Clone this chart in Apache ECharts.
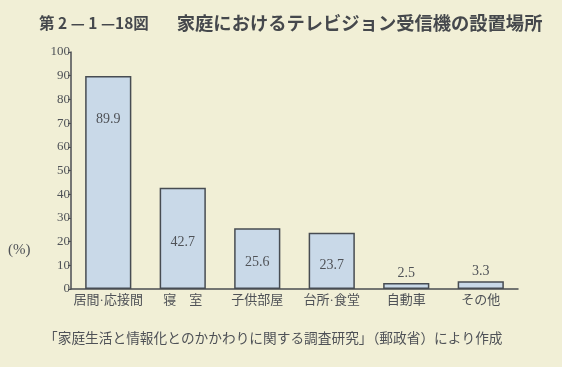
<!DOCTYPE html>
<html><head><meta charset="utf-8">
<script src="https://cdn.jsdelivr.net/npm/echarts@6/dist/echarts.min.js"></script>
<style>html,body{margin:0;padding:0;background:#f1efd6;}#c{width:562px;height:367px;}</style>
</head><body><div id="c"></div>
<script>
const categories = ['居間·応接間', '寝　室', '子供部屋', '台所·食堂', '自動車', 'その他'];
const values = [89.9, 42.7, 25.6, 23.7, 2.5, 3.3];
const yTicks = [0, 10, 20, 30, 40, 50, 60, 70, 80, 90, 100];
const titleNo = '第 2 — 1 —18図';
const titleText = '家庭におけるテレビジョン受信機の設置場所';
const sourceText = '「家庭生活と情報化とのかかわりに関する調査研究」（郵政省）により作成';
const unitText = '(%)';

const serif = '"Liberation Serif","DejaVu Serif","Noto Sans CJK JP",serif';
const txt = '#4f5257';
const chart = echarts.init(document.getElementById('c'), null, {renderer: 'canvas'});
const labelPos = values.map(v => v > 60 ? {position: 'insideTop', distance: 36} : (v > 10 ? {position: 'inside', offset: [0, 4]} : {position: 'top', distance: 3}));
chart.setOption({
  backgroundColor: '#f1efd6',
  animation: false,
  title: {
    text: '{a|' + titleNo + '}{g|}{b|' + titleText + '}', left: 34, top: 9,
    textStyle: {
      rich: {
        a: {fontFamily: '"Noto Sans CJK JP"', fontWeight: 'bold', fontSize: 15.5, color: '#45484c'},
        g: {width: 28},
        b: {fontFamily: '"Noto Sans CJK JP"', fontWeight: 'bold', fontSize: 18.3, color: '#45484c'}
      }
    }
  },
  graphic: [
    {type: 'text', left: 8, top: 243, style: {text: unitText, font: '15px ' + serif, fill: txt}},
    {type: 'text', left: 44, top: 331, style: {text: sourceText, font: '13.7px "Noto Sans CJK JP"', fill: txt}}
  ],
  grid: {left: 71, right: 44, top: 52, bottom: 78, containLabel: false},
  xAxis: {
    type: 'category', data: categories,
    axisLine: {lineStyle: {color: '#4a4d52', width: 1.5}},
    axisTick: {show: false},
    axisLabel: {interval: 0, fontFamily: serif + ',"Noto Sans CJK JP"', fontSize: 13, color: txt, margin: 5}
  },
  yAxis: {
    type: 'value', min: 0, max: 100, interval: 10,
    axisLine: {show: true, lineStyle: {color: '#4a4d52', width: 1.5}},
    axisTick: {show: true, length: 3, lineStyle: {color: '#4a4d52'}},
    splitLine: {show: false},
    axisLabel: {fontFamily: serif, fontSize: 13, color: txt, margin: 1,
      formatter: v => yTicks.includes(v) ? String(v) : ''}
  },
  series: [{
    type: 'bar',
    data: values.map((v, i) => ({value: v, label: labelPos[i]})),
    barCategoryGap: '38%',
    itemStyle: {color: '#c9d9e8', borderColor: '#474c52', borderWidth: 1.5},
    label: {show: true, fontFamily: serif, fontSize: 14, color: txt, formatter: p => p.value.toFixed(1)}
  }]
});
</script></body></html>
